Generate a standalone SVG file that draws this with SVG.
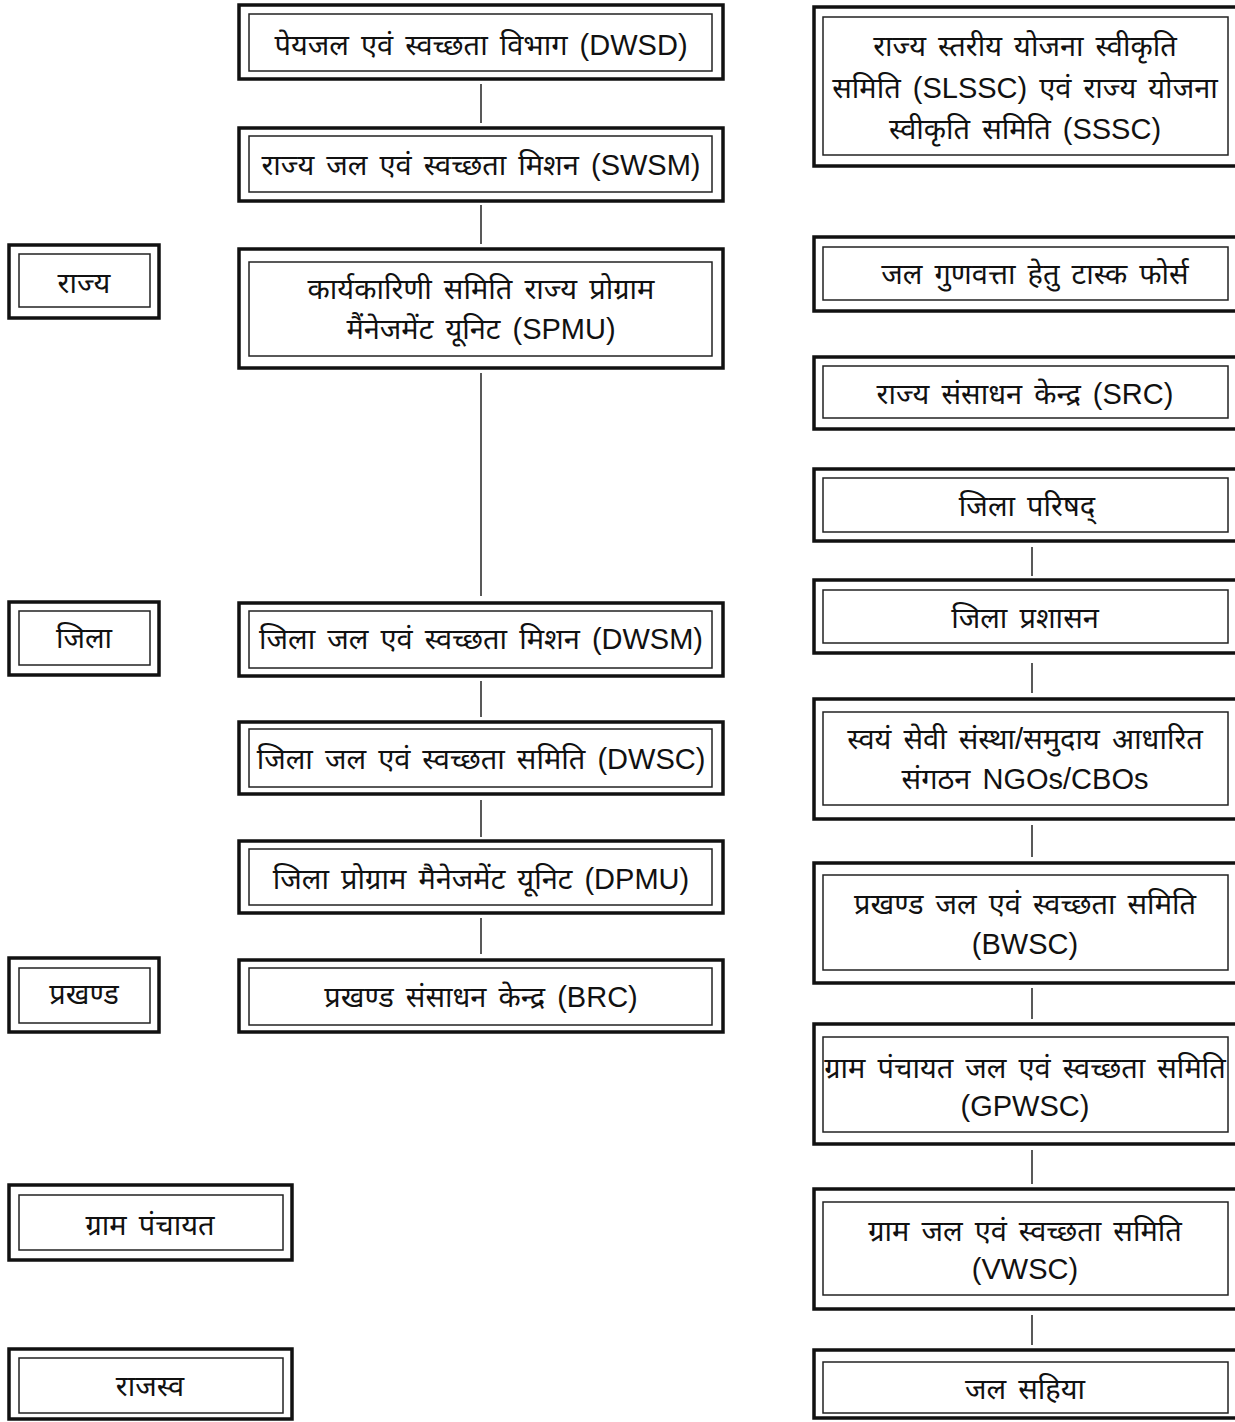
<svg xmlns="http://www.w3.org/2000/svg" width="1235" height="1422" viewBox="0 0 1235 1422">
<style>
.o{fill:none;stroke:#111;stroke-width:3.5}
.i{fill:none;stroke:#222;stroke-width:1.5}
.c{stroke:#222;stroke-width:1.5;fill:none}
text{font-family:"Liberation Sans","Noto Sans",sans-serif;font-size:29px;word-spacing:4px;fill:#111;text-anchor:middle}
</style>
<rect width="1235" height="1422" fill="#fff"/>
<g id="connectors">
<line class="c" x1="481" y1="84" x2="481" y2="123"/>
<line class="c" x1="481" y1="205" x2="481" y2="244"/>
<line class="c" x1="481" y1="373" x2="481" y2="596"/>
<line class="c" x1="481" y1="681" x2="481" y2="717"/>
<line class="c" x1="481" y1="800" x2="481" y2="837"/>
<line class="c" x1="481" y1="918" x2="481" y2="954"/>
<line class="c" x1="1032" y1="547" x2="1032" y2="576"/>
<line class="c" x1="1032" y1="663" x2="1032" y2="693"/>
<line class="c" x1="1032" y1="825" x2="1032" y2="857"/>
<line class="c" x1="1032" y1="988" x2="1032" y2="1019"/>
<line class="c" x1="1032" y1="1150" x2="1032" y2="1184"/>
<line class="c" x1="1032" y1="1315" x2="1032" y2="1345"/>
</g>
<g id="dwsd"><rect class="o" x="239" y="5" width="484" height="74"/><rect class="i" x="249" y="14" width="463" height="57"/><text x="481" y="55">पेयजल एवं स्वच्छता विभाग (DWSD)</text></g>
<g id="swsm"><rect class="o" x="239" y="128" width="484" height="73"/><rect class="i" x="249" y="136" width="463" height="56"/><text x="481" y="175">राज्य जल एवं स्वच्छता मिशन (SWSM)</text></g>
<g id="spmu"><rect class="o" x="239" y="249" width="484" height="119"/><rect class="i" x="249" y="262" width="463" height="94"/><text x="481" y="299">कार्यकारिणी समिति राज्य प्रोग्राम</text><text x="481" y="339">मैंनेजमेंट यूनिट (SPMU)</text></g>
<g id="dwsm"><rect class="o" x="239" y="603" width="484" height="73"/><rect class="i" x="249" y="611" width="463" height="57"/><text x="481" y="649">जिला जल एवं स्वच्छता मिशन (DWSM)</text></g>
<g id="dwsc"><rect class="o" x="239" y="722" width="484" height="72"/><rect class="i" x="249" y="729" width="463" height="58"/><text x="481" y="769">जिला जल एवं स्वच्छता समिति (DWSC)</text></g>
<g id="dpmu"><rect class="o" x="239" y="841" width="484" height="72"/><rect class="i" x="249" y="849" width="463" height="56"/><text x="481" y="889">जिला प्रोग्राम मैनेजमेंट यूनिट (DPMU)</text></g>
<g id="brc"><rect class="o" x="239" y="960" width="484" height="72"/><rect class="i" x="249" y="968" width="463" height="57"/><text x="481" y="1007">प्रखण्ड संसाधन केन्द्र (BRC)</text></g>
<g id="rajya"><rect class="o" x="9" y="245" width="150" height="73"/><rect class="i" x="19" y="254" width="131" height="53"/><text x="84" y="293">राज्य</text></g>
<g id="jila"><rect class="o" x="9" y="602" width="150" height="73"/><rect class="i" x="19" y="611" width="131" height="54"/><text x="84" y="648">जिला</text></g>
<g id="prakhand"><rect class="o" x="9" y="958" width="150" height="74"/><rect class="i" x="19" y="968" width="131" height="55"/><text x="84" y="1004">प्रखण्ड</text></g>
<g id="gram-panchayat"><rect class="o" x="9" y="1185" width="283" height="75"/><rect class="i" x="19" y="1195" width="264" height="55"/><text x="150" y="1235">ग्राम पंचायत</text></g>
<g id="rajasva"><rect class="o" x="9" y="1349" width="283" height="70"/><rect class="i" x="19" y="1358" width="264" height="55"/><text x="150" y="1396">राजस्व</text></g>
<g id="slssc"><rect class="o" x="814" y="7" width="440" height="159"/><rect class="i" x="823" y="17" width="405" height="138"/><text x="1025" y="56">राज्य स्तरीय योजना स्वीकृति</text><text x="1025" y="98">समिति (SLSSC) एवं राज्य योजना</text><text x="1025" y="139">स्वीकृति समिति (SSSC)</text></g>
<g id="taskforce"><rect class="o" x="814" y="237" width="440" height="74"/><rect class="i" x="823" y="247" width="405" height="53"/><text x="1035" y="284">जल गुणवत्ता हेतु टास्क फोर्स</text></g>
<g id="src"><rect class="o" x="814" y="357" width="440" height="72"/><rect class="i" x="823" y="366" width="405" height="52"/><text x="1025" y="404">राज्य संसाधन केन्द्र (SRC)</text></g>
<g id="zila-parishad"><rect class="o" x="814" y="469" width="440" height="72"/><rect class="i" x="823" y="478" width="405" height="54"/><text x="1027" y="516">जिला परिषद्</text></g>
<g id="zila-prashasan"><rect class="o" x="814" y="580" width="440" height="73"/><rect class="i" x="823" y="590" width="405" height="53"/><text x="1025" y="628">जिला प्रशासन</text></g>
<g id="ngo"><rect class="o" x="814" y="699" width="440" height="120"/><rect class="i" x="823" y="712" width="405" height="93"/><text x="1025" y="749">स्वयं सेवी संस्था/समुदाय आधारित</text><text x="1025" y="789">संगठन NGOs/CBOs</text></g>
<g id="bwsc"><rect class="o" x="814" y="863" width="440" height="120"/><rect class="i" x="823" y="875" width="405" height="95"/><text x="1025" y="914">प्रखण्ड जल एवं स्वच्छता समिति</text><text x="1025" y="954">(BWSC)</text></g>
<g id="gpwsc"><rect class="o" x="814" y="1024" width="440" height="120"/><rect class="i" x="823" y="1037" width="405" height="95"/><text x="1025" y="1078">ग्राम पंचायत जल एवं स्वच्छता समिति</text><text x="1025" y="1116">(GPWSC)</text></g>
<g id="vwsc"><rect class="o" x="814" y="1189" width="440" height="120"/><rect class="i" x="823" y="1202" width="405" height="93"/><text x="1025" y="1241">ग्राम जल एवं स्वच्छता समिति</text><text x="1025" y="1279">(VWSC)</text></g>
<g id="jal-sahiya"><rect class="o" x="814" y="1350" width="440" height="68"/><rect class="i" x="823" y="1362" width="405" height="51"/><text x="1025" y="1399">जल सहिया</text></g>
</svg>
